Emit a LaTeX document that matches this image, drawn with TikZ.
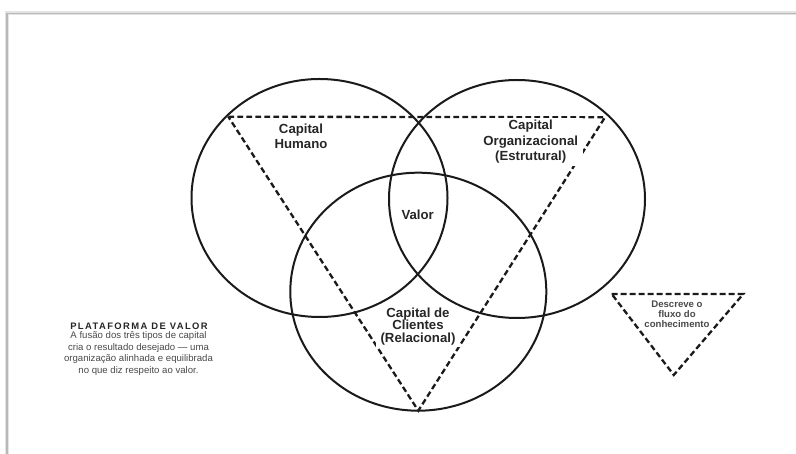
\documentclass[tikz,border=0pt]{standalone}
\usepackage{fontspec}
\setmainfont{Liberation Sans}
\newfontfamily\headfont[LetterSpace=15]{Liberation Sans}
\usetikzlibrary{shapes.geometric}
\definecolor{ink}{HTML}{1A1A1A}
\definecolor{txt}{HTML}{262626}
\definecolor{soft}{HTML}{4A4A4A}
\definecolor{frame}{HTML}{B8B8B8}
\definecolor{frameshade}{HTML}{E4E4E4}
\begin{document}
\begin{tikzpicture}[x=1pt,y=-1pt,
  ring/.style={ellipse, draw=ink, line width=2pt, inner sep=0pt,
               minimum width=256pt, minimum height=238pt},
  flow/.style={draw=ink, line width=2.3pt, dash pattern=on 5.8pt off 3.2pt},
  lbl/.style={font=\fontsize{13.2}{#1}\selectfont\bfseries, text=txt,
              align=center, fill=white, inner xsep=5pt, inner ysep=2pt},
  note/.style={font=\fontsize{9.6}{#1}\selectfont, text=soft, align=center, inner sep=1pt}
]
\useasboundingbox (0,0) rectangle (796,454);
\fill[white] (0,0) rectangle (796,454);
% frame with soft shadow
\draw[frameshade, line width=4pt] (7,454) -- (7,13.3) -- (796,13.3);
\draw[frame, line width=1.2pt] (7,454) -- (7,13.3) -- (796,13.3);

% big flow triangle
\coordinate (ta) at (228.3,116.7);
\coordinate (tb) at (605,117.3);
\coordinate (tc) at (418.3,410.7);
\draw[flow] (ta) -- (tb) -- (tc) -- cycle;

% small flow triangle
\coordinate (sa) at (611.7,294);
\coordinate (sb) at (743.3,294);
\coordinate (sc) at (673.8,375);
\draw[flow] (sa) -- (sb) -- (sc) -- cycle;

% labels
\node[lbl=14.5] (hum) at (301,136.5) {Capital\\Humano};
\node[lbl=15.5] (org) at (530.7,142) {Capital\\Organizacional\\(Estrutural)};
\node[lbl=14] (val) at (417.7,214.3) {Valor};
\node[lbl=12.8] (cli) at (418,326.5) {Capital de\\Clientes\\(Relacional)};
\node[font=\fontsize{9.6}{10}\selectfont\bfseries, text=soft, align=center, inner sep=1pt]
  (flx) at (677,314.3) {Descreve o\\fluxo do\\conhecimento};

\node[font=\fontsize{9.4}{11}\headfont\bfseries, text=txt, inner sep=0pt] (pv) at (139,326) {PLATAFORMA DE VALOR};
\node[note=11.7] (pvt) at (138.5,353.5) {A fusão dos três tipos de capital\\cria o resultado desejado — uma\\organização alinhada e equilibrada\\no que diz respeito ao valor.};

% circles
\node[ring] (ch) at (319.5,198) {};
\node[ring] (co) at (517,199) {};
\node[ring] (cc) at (418.3,291.7) {};
\end{tikzpicture}
\end{document}
